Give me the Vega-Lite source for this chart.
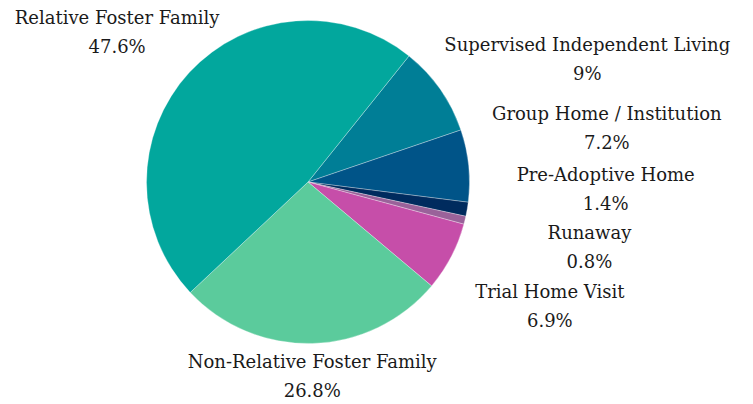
{
  "$schema": "https://vega.github.io/schema/vega-lite/v6.json",
  "width": 616,
  "height": 364,
  "autosize": "none",
  "padding": {"left": 0, "top": 0, "right": 137, "bottom": 40},
  "background": "white",
  "view": {"stroke": null},
  "data": {
    "values": [
      {"category": "Supervised Independent Living", "value": 9, "order": 1},
      {"category": "Group Home / Institution", "value": 7.2, "order": 2},
      {"category": "Pre-Adoptive Home", "value": 1.4, "order": 3},
      {"category": "Runaway", "value": 0.8, "order": 4},
      {"category": "Trial Home Visit", "value": 6.9, "order": 5},
      {"category": "Non-Relative Foster Family", "value": 26.8, "order": 6},
      {"category": "Relative Foster Family", "value": 47.6, "order": 7}
    ]
  },
  "transform": [
    {"calculate": "[datum.category, datum.value + '%']", "as": "label"}
  ],
  "encoding": {
    "theta": {
      "field": "value",
      "type": "quantitative",
      "stack": true,
      "scale": {"range": [0.6754, 6.9586]}
    },
    "order": {"field": "order", "type": "quantitative"},
    "color": {
      "field": "category",
      "type": "nominal",
      "legend": null,
      "scale": {
        "domain": ["Supervised Independent Living", "Group Home / Institution", "Pre-Adoptive Home", "Runaway", "Trial Home Visit", "Non-Relative Foster Family", "Relative Foster Family"],
        "range": ["#007e96", "#005488", "#002b5e", "#9a629a", "#c64ea9", "#5bcb9c", "#02a79d"]
      }
    }
  },
  "layer": [
    {
      "mark": {"type": "arc", "outerRadius": 161.5, "stroke": "white", "strokeWidth": 0.5, "strokeOpacity": 0.6}
    },
    {
      "mark": {
        "type": "text",
        "radius": 230,
        "font": "DejaVu Serif",
        "fontSize": 18,
        "lineHeight": 29,
        "align": "center",
        "baseline": "middle",
        "dx": {"expr": "[91, 70, 71, 58, 38, -2, -22][datum.order - 1]"},
        "dy": {"expr": "[-4, -44, -45, -2, 4, -49, -7][datum.order - 1]"}
      },
      "encoding": {
        "text": {"field": "label"},
        "color": {"value": "#1a1a1a"}
      }
    }
  ]
}
